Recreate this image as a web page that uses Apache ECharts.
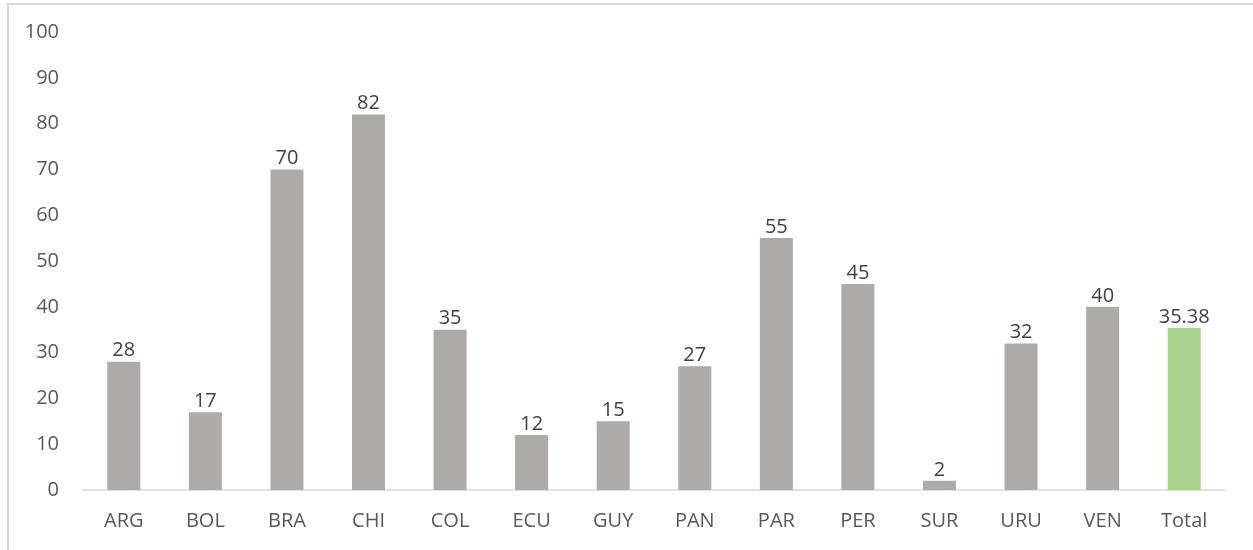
<!DOCTYPE html>
<html><head><meta charset="utf-8">
<script src="https://cdn.jsdelivr.net/npm/echarts@6/dist/echarts.min.js"></script>
<style>
html,body{margin:0;padding:0;background:#fff;}
#frame{position:absolute;left:7px;top:3px;width:1246px;height:547px;border-left:2px solid #D9D9D9;border-top:2px solid #D9D9D9;box-sizing:border-box;}
#c{position:absolute;left:0;top:0;width:1253px;height:550px;}
</style></head>
<body>
<div id="frame"></div>
<div id="c"></div>
<script>
const categories = ['ARG','BOL','BRA','CHI','COL','ECU','GUY','PAN','PAR','PER','SUR','URU','VEN','Total'];
const values = [28,17,70,82,35,12,15,27,55,45,2,32,40,35.38];
const labels = ['28','17','70','82','35','12','15','27','55','45','2','32','40','35.38'];
const chart = echarts.init(document.getElementById('c'));
const font = '"Open Sans", sans-serif';
chart.setOption({
  animation:false,
  grid:{left:83,right:28,top:32,bottom:60},
  xAxis:{type:'category',data:categories,
    axisLine:{lineStyle:{color:'#D9D9D9',width:1.5}},axisTick:{show:false},
    axisLabel:{color:'#595959',fontSize:20,fontFamily:font,margin:21}},
  yAxis:{type:'value',min:0,max:100,interval:10,
    axisLine:{show:false},axisTick:{show:false},splitLine:{show:false},
    axisLabel:{color:'#595959',fontSize:20,fontFamily:font,margin:24}},
  series:[{type:'bar',barWidth:33,
    data:values.map((v,i)=>({value:v,itemStyle:{color:categories[i]==='Total'?'#A9D18E':'#AEAAAA'},
      label:{show:true,position:'top',formatter:labels[i],color:'#404040',fontSize:20,fontFamily:font,distance:1}}))}]
});
</script>
</body></html>
